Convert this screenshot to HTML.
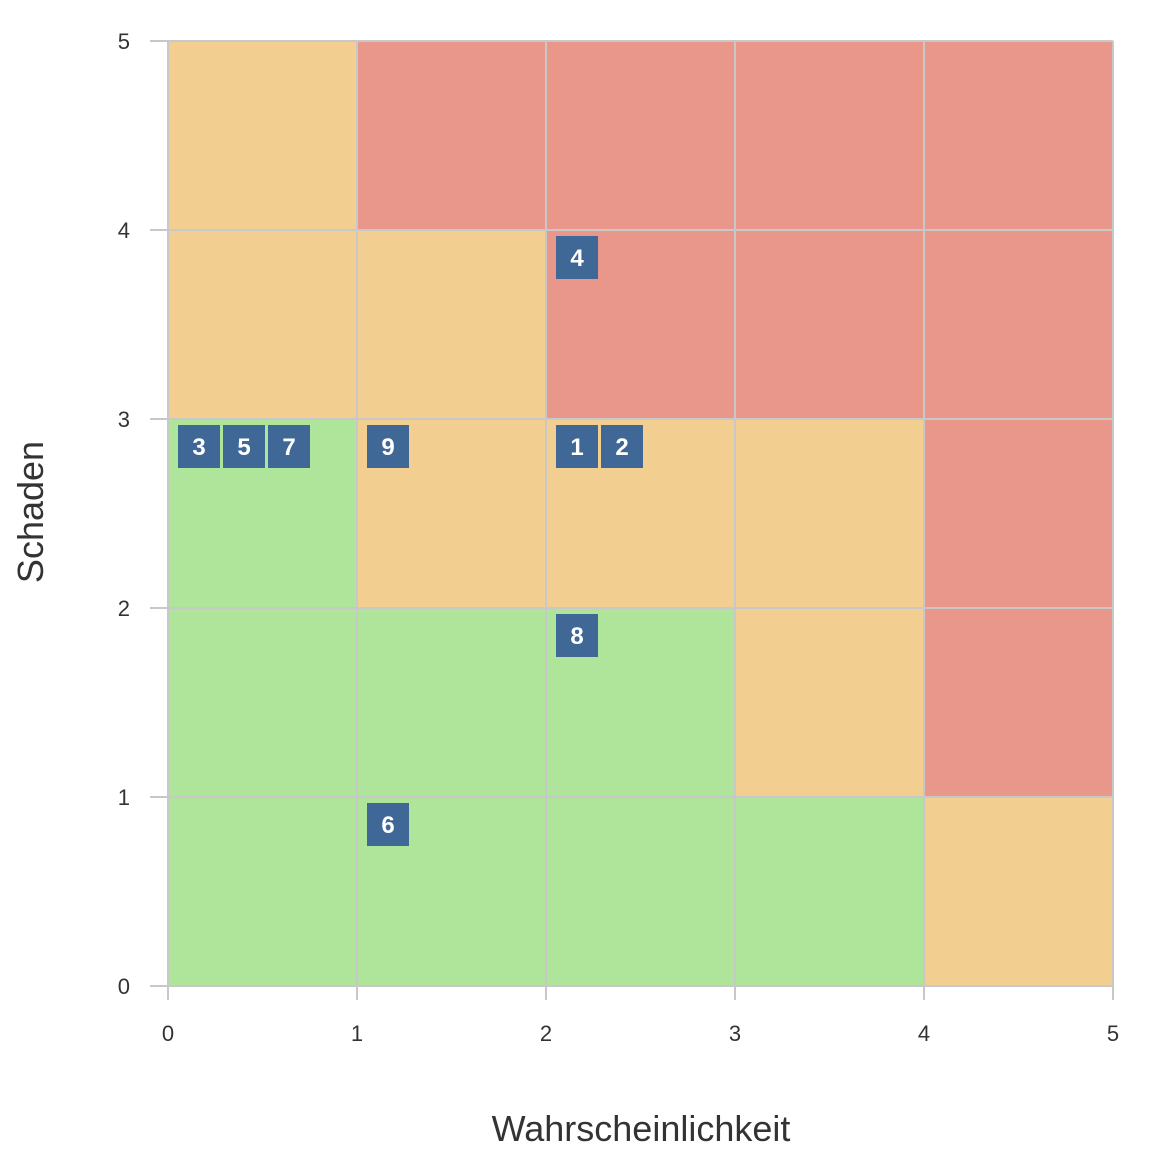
<!DOCTYPE html>
<html><head><meta charset="utf-8"><style>
body{margin:0;background:#fff;font-family:"Liberation Sans",sans-serif}
</style></head><body>
<svg width="1166" height="1161" id="chart" xmlns="http://www.w3.org/2000/svg"></svg>
<script>
const xTicks=[0,1,2,3,4,5];
const yTicks=[0,1,2,3,4,5];
// rows bottom->top, cols left->right
const cellLevels=[
 ["g","g","g","g","o"],
 ["g","g","g","o","r"],
 ["g","o","o","o","r"],
 ["o","o","r","r","r"],
 ["o","r","r","r","r"]
];
const riskIds=[1,2,3,4,5,6,7,8,9];
const riskX=[2,2,0,2,0,1,0,2,1];
const riskY=[3,3,3,4,3,1,3,2,3];
const colors={g:"#aee59b",o:"#f2cf90",r:"#e8978a"};
const X0=168,X1=1113,Y0=986,Y1=41;
const sx=v=>X0+(X1-X0)*v/5, sy=v=>Y0-(Y0-Y1)*v/5;
const svg=document.getElementById('chart');
const NS="http://www.w3.org/2000/svg";
function mk(t,a,p){const e=document.createElementNS(NS,t);for(const k in a)e.setAttribute(k,a[k]);(p||svg).appendChild(e);return e;}
cellLevels.forEach((row,r)=>row.forEach((lv,c)=>{
 const e=mk('rect',{x:sx(c),y:sy(r+1),width:sx(c+1)-sx(c),height:sy(r)-sy(r+1),fill:colors[lv]});
 
 
}));
xTicks.forEach(v=>{
 const l=mk('line',{x1:sx(v),x2:sx(v),y1:Y1,y2:Y0+14,stroke:"#c8c8c8","stroke-width":2});
 
 
 const t=mk('text',{x:sx(v),y:Y0+55,"text-anchor":"middle","font-size":22,fill:"#333"});
 t.textContent=v;
 
 
});
yTicks.forEach(v=>{
 const l=mk('line',{x1:X0-18,x2:X1,y1:sy(v),y2:sy(v),stroke:"#c8c8c8","stroke-width":2});
 
 
 const t=mk('text',{x:130,y:sy(v)+8,"text-anchor":"end","font-size":22,fill:"#333"});
 t.textContent=v;
 
 
});
const counts={};
riskIds.forEach((id,i)=>{
 const key=riskX[i]+'_'+riskY[i];
 const k=counts[key]||0;counts[key]=k+1;
 const bx=sx(riskX[i])+10+k*45, by=sy(riskY[i])+6;
 const g=mk('g',{});
 
 
 mk('rect',{x:bx,y:by,width:42,height:43,fill:"#3f6896"},g);
 const t=mk('text',{x:bx+21,y:by+30,"text-anchor":"middle","font-size":24,"font-weight":"bold",fill:"#fff"},g);
 t.textContent=id;
});
const xt=mk('text',{x:641,y:1141,"text-anchor":"middle","font-size":36,fill:"#333"});
xt.textContent="Wahrscheinlichkeit";


const yt=mk('text',{x:0,y:0,"text-anchor":"middle","font-size":36,fill:"#333",transform:"translate(43,512) rotate(-90)"});
yt.textContent="Schaden";


</script>
</body></html>
